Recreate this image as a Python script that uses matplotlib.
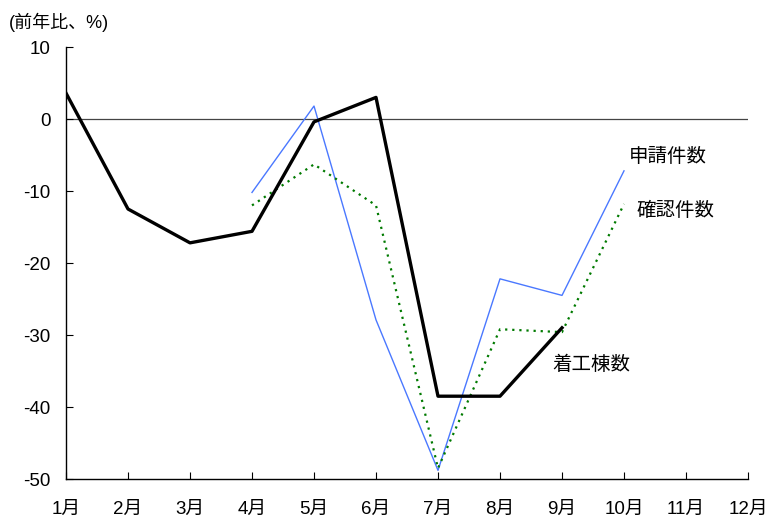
import matplotlib
matplotlib.use("Agg")
import matplotlib.pyplot as plt

plt.rcParams['font.family'] = ['Liberation Sans', 'Noto Sans CJK JP', 'DejaVu Sans']

months = ["1月", "2月", "3月", "4月", "5月", "6月", "7月", "8月", "9月", "10月", "11月", "12月"]
x_all = list(range(1, 13))

chakko = [3.6, -12.5, -17.2, -15.6, -0.4, 3.0, -38.5, -38.5, -29.0]        # 着工棟数, months 1-9
shinsei = [-10.2, 1.8, -27.9, -48.8, -22.2, -24.5, -7.2]                   # 申請件数, months 4-10
kakunin = [-12.0, -6.3, -12.0, -48.5, -29.2, -29.6, -11.8]                 # 確認件数, months 4-10

yticks = [10, 0, -10, -20, -30, -40, -50]

fig = plt.figure(figsize=(7.8, 5.17), dpi=100)
ax = fig.add_axes([66/780, 1-479/517, (748-66)/780, (479-47)/517])

ax.axhline(0, color='#444444', lw=0.9, zorder=1)

ax.plot(x_all[3:10], shinsei, color='#4a78ff', lw=1.0, zorder=3)
ax.plot(x_all[3:10], kakunin, color='#007a00', lw=1.6, linestyle=(0, (1, 2.2)), zorder=3)
ax.plot(x_all[:9], chakko, color='black', lw=2.4, zorder=4)

ax.set_xlim(1, 12)
ax.set_ylim(-50, 10)
ax.set_xticks(x_all)
ax.set_xticklabels(months)
ax.set_yticks(yticks)
ax.set_yticklabels([str(v) for v in yticks])

for s in ['top', 'right']:
    ax.spines[s].set_visible(False)
for s in ['left', 'bottom']:
    ax.spines[s].set_color('black')
    ax.spines[s].set_linewidth(1.0)

ax.tick_params(axis='x', direction='in', length=5, width=0.8, labelsize=13.5, pad=16)
ax.tick_params(axis='y', direction='in', length=5, width=0.8, labelsize=13.5, pad=11)

ax.text(10.08, -5.3, "申請件数", fontsize=14, va='center', ha='left')
ax.text(10.2, -12.8, "確認件数", fontsize=14, va='center', ha='left')
ax.text(8.84, -34.2, "着工棟数", fontsize=14, va='center', ha='left')

fig.text(9/780, 1-22/517, "(前年比、%)", fontsize=13, va='center', ha='left')

fig.savefig("out.png", dpi=100)
